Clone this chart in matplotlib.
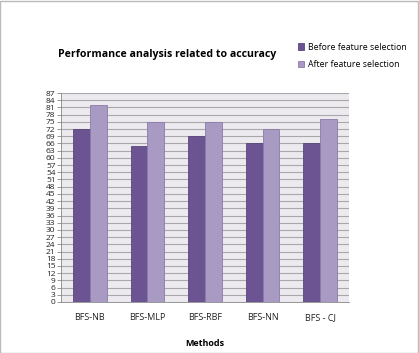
import matplotlib.pyplot as plt
import numpy as np

methods = ["BFS-NB", "BFS-MLP", "BFS-RBF", "BFS-NN", "BFS - CJ"]
before = [72, 65, 69, 66, 66]
after = [82, 75, 75, 72, 76]
yticks = list(range(0, 88, 3))

plt.rcParams['font.family'] = ['Open Sans', 'DejaVu Sans']

fig = plt.figure(figsize=(4.19, 3.53), dpi=100)
ax = fig.add_axes([61/419, 1 - 302/353, 288/419, 209/353])
ax.set_facecolor('#ECE9EF')

x = np.arange(len(methods))
w = 0.29
ax.bar(x - w/2, before, w, color='#6B5491', edgecolor='#5A467C', linewidth=0.6,
       label='Before feature selection', zorder=3)
ax.bar(x + w/2, after, w, color='#A89AC3', edgecolor='#8A7BA8', linewidth=0.6,
       label='After feature selection', zorder=3)

ax.set_xlim(-0.5, len(methods) - 0.5)
ax.set_ylim(0, 87)
ax.set_yticks(yticks)
ax.set_yticklabels([str(t) for t in yticks], fontsize=6, color='#222222')
ax.yaxis.grid(True, color='#A8A8A8', linewidth=0.8, zorder=0)
ax.set_xticks(x)
ax.set_xticklabels(methods, fontsize=6.5, color='#222222')
ax.tick_params(axis='x', length=0, pad=8)
ax.tick_params(axis='y', length=3, width=0.6, color='#888888', pad=1)
for s in ['top', 'right']:
    ax.spines[s].set_visible(False)
ax.spines['left'].set_color('#888888')
ax.spines['bottom'].set_color('#888888')
ax.spines['left'].set_linewidth(0.6)
ax.spines['bottom'].set_linewidth(0.6)

fig.text(167/419, 1 - 55/353, 'Performance analysis related to accuracy',
         fontsize=7.6, fontweight='bold', ha='center', va='center')
fig.text(205/419, 1 - 343/353, 'Methods', fontsize=6.5, fontweight='bold',
         ha='center', va='center')

leg = fig.legend(loc='upper left', bbox_to_anchor=(294/419, 1 - 39/353),
                 fontsize=6.3, frameon=False, handlelength=0.7, handleheight=0.7,
                 handletextpad=0.5, labelspacing=1.0, borderaxespad=0)

# chart border
fig.add_artist(plt.Rectangle((0.001, 0.001), 0.997, 0.997, transform=fig.transFigure,
                             fill=False, edgecolor='#BBBBBB', linewidth=1))

fig.savefig('out.png', dpi=100)
